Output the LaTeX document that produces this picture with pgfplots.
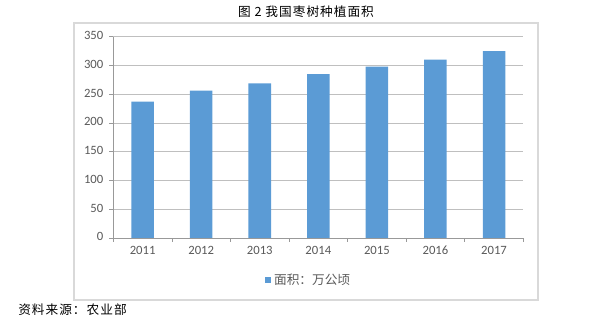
\documentclass[border=0pt]{standalone}
\usepackage{fontspec}
\setmainfont{Carlito}
\newfontfamily\cjk{Noto Sans CJK SC}
\newfontfamily\cjkwide[LetterSpace=8]{Noto Sans CJK SC}
\usepackage{pgfplots}
\pgfplotsset{compat=1.18}
\definecolor{barblue}{HTML}{5B9BD5}
\definecolor{txt}{HTML}{595959}
\definecolor{gridc}{HTML}{BFBFBF}
\definecolor{framec}{HTML}{D9D9D9}
\begin{document}
\begin{tikzpicture}
\path[use as bounding box] (0,0) rectangle (450pt,242.25pt);
\draw[framec, line width=0.8pt] (55.5pt,17.25pt) rectangle (403.5pt,225pt);
\node[font=\cjkwide\fontsize{9.5}{11}\selectfont, text=black] at (229.5pt,233.25pt) {图 2 我国枣树种植面积};
\node[font=\cjkwide\fontsize{9.5}{11}\selectfont, text=black, anchor=west, inner sep=0pt] at (13.5pt,9.75pt) {资料来源：农业部};
\begin{axis}[
  at={(85pt,63.75pt)}, anchor=south west,
  scale only axis, width=307.5pt, height=151pt,
  xmin=-0.5, xmax=6.5, ymin=0, ymax=350,
  ytick={0,50,...,350},
  xtick={-0.5,0.5,...,6.5}, xticklabels={},
  extra x ticks={0,1,2,3,4,5,6},
  extra x tick labels={2011,2012,2013,2014,2015,2016,2017},
  extra x tick style={major tick length=0pt, grid=none},
  axis x line*=bottom, axis y line*=left,
  axis line style={gridc!80!black, line width=0.6pt},
  tick style={gridc!80!black, line width=0.6pt},
  tick align=outside, major tick length=3pt,
  ymajorgrids, grid style={gridc, line width=0.6pt},
  tick label style={font=\fontsize{9.5}{11}\selectfont, text=txt},
  typeset ticklabels with strut,
  /pgf/number format/assume math mode=true,
  yticklabel style={xshift=-1pt},
  xticklabel style={yshift=-1pt},
  legend style={at={(0.477,-0.209)}, anchor=center, draw=none, fill=none,
    font=\cjk\fontsize{9.5}{11}\selectfont, text=txt, inner sep=0pt},
  ybar, bar width=16.9pt,
]
\addplot[fill=barblue, draw=none,
  legend image code/.code={\fill[barblue] (0pt,-2.4pt) rectangle (4.8pt,2.4pt);}]
  coordinates {(0,237) (1,256) (2,269) (3,285) (4,298) (5,310) (6,325)};
\addlegendentry{面积：万公顷}
\end{axis}
\end{tikzpicture}
\end{document}
